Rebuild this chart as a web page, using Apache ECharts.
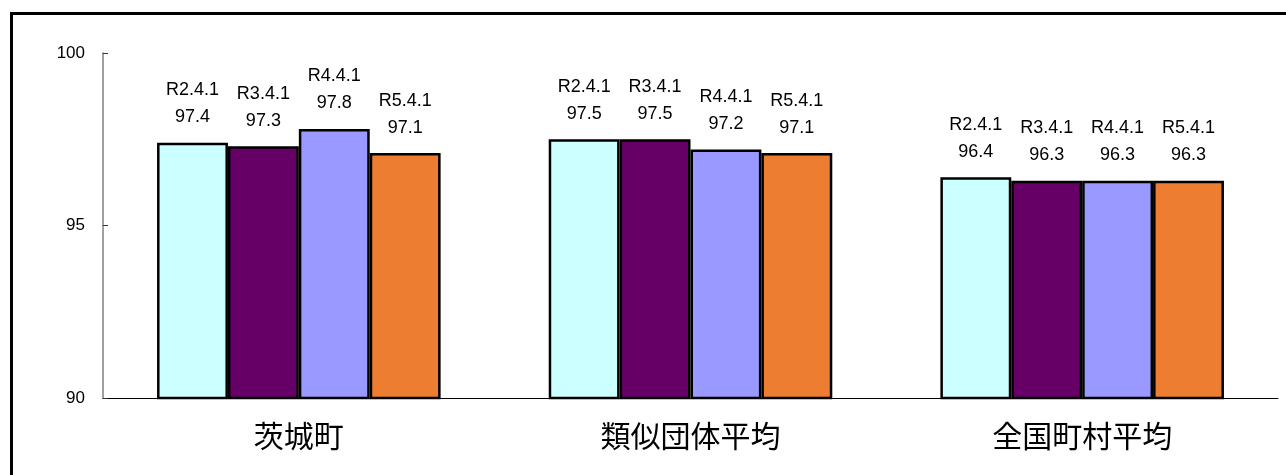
<!DOCTYPE html>
<html><head><meta charset="utf-8">
<script src="https://cdn.jsdelivr.net/npm/echarts@6/dist/echarts.min.js"></script>
<style>html,body{margin:0;padding:0;background:#fff}#c{width:1286px;height:475px}</style>
</head><body><div id="c"></div>
<script>
const categories = ['茨城町', '類似団体平均', '全国町村平均'];
const seriesNames = ['R2.4.1', 'R3.4.1', 'R4.4.1', 'R5.4.1'];
const r2 = [97.4, 97.5, 96.4];
const r3 = [97.3, 97.5, 96.3];
const r4 = [97.8, 97.2, 96.3];
const r5 = [97.1, 97.1, 96.3];
const yTicks = [90, 95, 100];
const colors = ['#CCFFFF', '#660066', '#9999FF', '#ED7D31'];
const values = [r2, r3, r4, r5];

const chart = echarts.init(document.getElementById('c'));
chart.setOption({
  animation: false,
  graphic: [{
    type: 'rect', left: 9, top: 11, z: -1,
    shape: {x: 0, y: 0, width: 1300, height: 500},
    style: {fill: 'none', stroke: '#000', lineWidth: 3}
  }],
  grid: {left: 103, right: 8, top: 53, bottom: 77},
  xAxis: {
    type: 'category', data: categories,
    axisLine: {lineStyle: {color: '#000', width: 1}},
    axisTick: {inside: true, length: 8, lineStyle: {color: '#808080'}},
    axisLabel: {fontFamily: 'Noto Sans CJK JP', fontSize: 30, color: '#000', margin: 23}
  },
  yAxis: {
    type: 'value', min: yTicks[0], max: yTicks[yTicks.length - 1], interval: 5,
    axisLine: {show: true, lineStyle: {color: '#808080', width: 1.5}},
    axisTick: {show: true, inside: true, length: 5, lineStyle: {color: '#333'}},
    splitLine: {show: false},
    axisLabel: {fontFamily: 'Liberation Sans', fontSize: 17, color: '#000', margin: 18}
  },
  series: seriesNames.map((n, i) => ({
    name: n, type: 'bar', data: values[i],
    barGap: '0%', barCategoryGap: '27.6%',
    itemStyle: {color: colors[i], borderColor: '#000', borderWidth: 2.5},
    label: {
      show: true, position: 'top', distance: 12,
      formatter: (p) => n + '\n' + p.value.toFixed(1),
      fontFamily: 'Liberation Sans', fontSize: 18, color: '#000', lineHeight: 27
    }
  }))
});
</script></body></html>
